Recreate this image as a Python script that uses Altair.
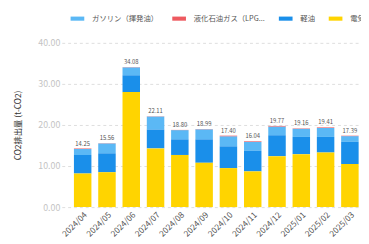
import altair as alt
import pandas as pd

months = ["2024/04", "2024/05", "2024/06", "2024/07", "2024/08", "2024/09",
          "2024/10", "2024/11", "2024/12", "2025/01", "2025/02", "2025/03"]
series = ["ガソリン（揮発油）", "液化石油ガス（LPG）", "軽油", "電気"]
colors = ["#5BB8F5", "#EE5A60", "#1A8FEA", "#FFD400"]
stack_order = [2, 3, 1, 0]

gasoline = [1.45, 2.41, 1.93, 3.16, 2.25, 2.44, 2.45, 2.19, 2.12, 1.96, 2.16, 1.39]
lpg = [0.10, 0.05, 0.05, 0.05, 0.05, 0.05, 0.15, 0.15, 0.15, 0.10, 0.15, 0.10]
diesel = [4.5, 4.6, 4.1, 4.6, 3.8, 5.7, 5.3, 5.0, 5.1, 4.2, 3.8, 5.4]
electric = [8.2, 8.5, 28.0, 14.3, 12.7, 10.8, 9.5, 8.7, 12.4, 12.9, 13.3, 10.5]
totals = [14.25, 15.56, 34.08, 22.11, 18.80, 18.99, 17.40, 16.04, 19.77, 19.16, 19.41, 17.39]
y_ticks = [0, 5, 10, 15, 20, 25, 30, 35, 40]

rows = []
for vals, s, o in zip([gasoline, lpg, diesel, electric], series, stack_order):
    for m, v in zip(months, vals):
        rows.append({"month": m, "series": s, "value": v, "ord": o})
df = pd.DataFrame(rows)
tot = pd.DataFrame({"month": months, "total": totals})

FONT = "Noto Sans CJK JP"

x_enc = alt.X("month:N", sort=months,
              scale=alt.Scale(paddingInner=0.28, paddingOuter=0.5, range=[0, 316]),
              axis=alt.Axis(title=None, labelAngle=-45, labelFontSize=8.5, labelColor="#555555",
                            labelFont=FONT, domain=False, ticks=False, labelPadding=3))

bars = alt.Chart(df).mark_bar().encode(
    x=x_enc,
    y=alt.Y("value:Q", stack="zero",
            scale=alt.Scale(domain=[0, 40], nice=False),
            axis=alt.Axis(title="CO2排出量 (t-CO2)", values=y_ticks, format=".2f",
                          labelColor="#c4c4c4", labelFontSize=9, labelFont=FONT,
                          titleFont=FONT, titleFontSize=8.5, titleColor="#333333",
                          titleFontWeight="normal", titlePadding=16,
                          domain=False, ticks=False, labelPadding=2,
                          grid=True, gridDash=[3, 3], gridColor="#dddddd")),
    color=alt.Color("series:N", sort=series,
                    scale=alt.Scale(domain=series, range=colors),
                    legend=alt.Legend(title=None, orient="none", legendX=9, legendY=-32,
                                      direction="horizontal", columns=4,
                                      symbolType="M-1,-0.3L1,-0.3L1,0.3L-1,0.3Z",
                                      symbolSize=196, symbolStrokeWidth=0,
                                      labelFont=FONT, labelFontSize=7.5, labelColor="#555555",
                                      labelExpr="datum.label == '液化石油ガス（LPG）' ? '液化石油ガス（LPG...' : datum.label",
                                      labelLimit=90, labelOffset=8, columnPadding=14,
                                      padding=0)),
    order=alt.Order("ord:Q", sort="ascending"),
)

labels = alt.Chart(tot).mark_text(dy=-5, fontSize=6, color="#555555", font=FONT).encode(
    x=alt.X("month:N", sort=months),
    y=alt.Y("total:Q"),
    text=alt.Text("total:Q", format=".2f"),
)

chart = alt.layer(bars, labels).properties(
    width=306, height=168,
    autosize=alt.AutoSizeParams(type="none"),
    padding={"left": 55, "top": 33, "right": 0, "bottom": 31},
).configure_view(stroke=None)

chart.save("out.html", embed_options={"renderer": "svg", "actions": False})
